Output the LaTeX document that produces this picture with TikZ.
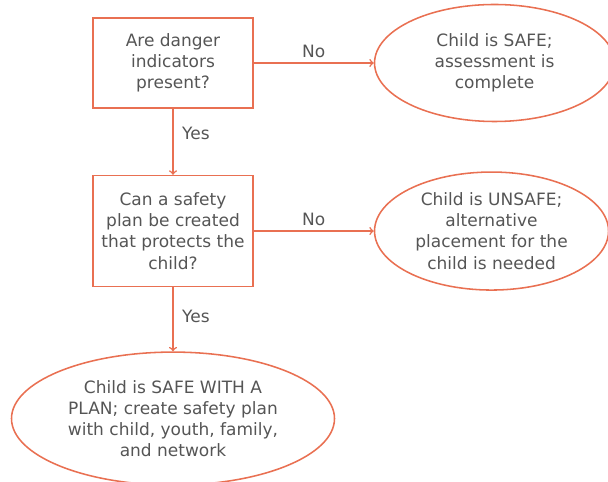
\documentclass[tikz,border=0pt]{standalone}
\usepackage{fontspec}
\setmainfont{DejaVu Sans}
\usepackage{tikz}
\usetikzlibrary{arrows,positioning,shapes.geometric}
\usepackage{xcolor}
\definecolor{flowline}{RGB}{233,112,82}
\definecolor{flowtext}{RGB}{85,85,85}

\begin{document}
\begin{tikzpicture}[->,>=to,auto,node distance=3cm,
                    draw=flowline,line width=1.1pt,
                    font=\fontsize{12.1}{15}\selectfont,text=flowtext]
  \tikzstyle{question}=[rectangle,draw=flowline,line width=1.1pt,align=center,
                        minimum width=4cm,inner sep=0pt]
  \tikzstyle{outcome}=[ellipse,draw=flowline,line width=1.1pt,align=center,
                       inner sep=0pt]
  \useasboundingbox (0,0) rectangle (15.2,-12.05);

  \node[question,minimum height=2.25cm] (danger) at (4.325,-1.575)
        {Are danger\\indicators\\present?};
  \node[outcome,minimum width=6cm,minimum height=2.925cm] (safe) [right=3cm of danger]
        {Child is SAFE;\\assessment is\\complete};
  \node[question,minimum height=2.775cm] (plan) [below=1.65cm of danger]
        {Can a safety\\plan be created\\that protects the\\child?};
  \node[outcome,minimum width=5.85cm,minimum height=2.95cm] (unsafe) [right=3cm of plan]
        {Child is UNSAFE;\\alternative\\placement for the\\child is needed};
  \node[outcome,minimum width=8.075cm,minimum height=3.325cm] (withplan) [below=1.6cm of plan]
        {Child is SAFE WITH A\\PLAN; create safety plan\\with child, youth, family,\\and network};

  \path (danger) edge node {No} (safe)
                 edge node[pos=0.38,inner sep=6pt] {Yes} (plan)
        (plan) edge node {No} (unsafe)
               edge node[pos=0.45,inner sep=6pt] {Yes} (withplan)
        ;
\end{tikzpicture}
\end{document}
